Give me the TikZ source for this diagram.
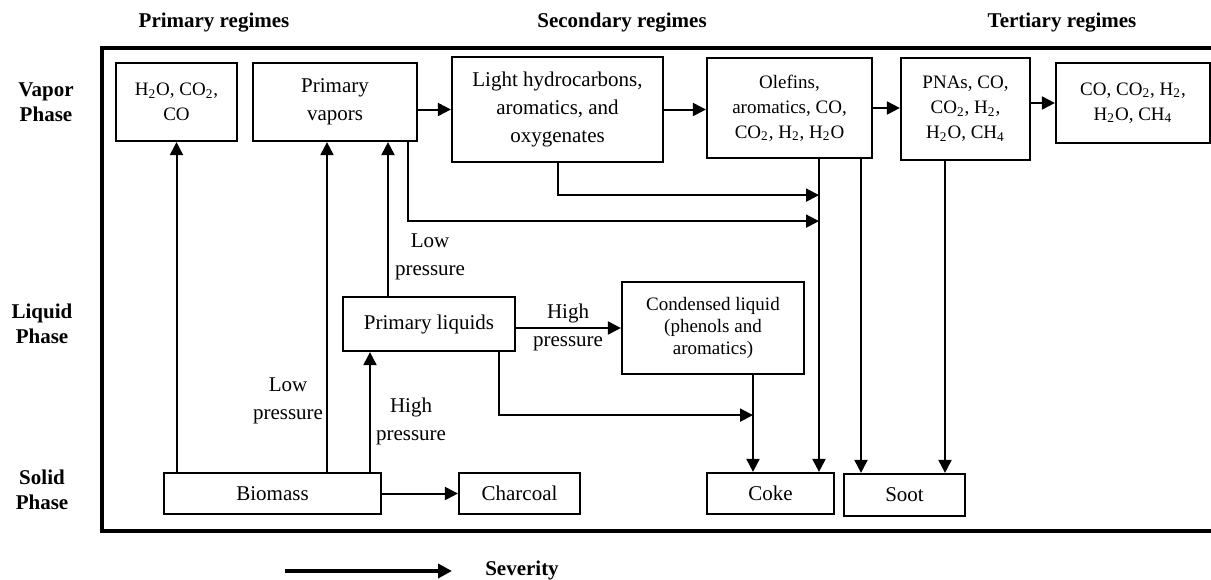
\documentclass[tikz,border=0pt]{standalone}
\usepackage{fontspec}
\setmainfont{Liberation Serif}
\usetikzlibrary{arrows.meta}
\tikzstyle{arrow} = [line width=1pt,-{Triangle[length=6.5pt,width=6.5pt]}]

\begin{document}
\begin{tikzpicture}[x=0.5pt, y=-0.5pt,
  box/.style = {draw, line width=1.1pt, align=center, inner sep=0pt, font=\fontsize{10.5}{14}\selectfont},
  small/.style = {font=\fontsize{9.5}{12.5}\selectfont},
  lbl/.style = {align=center, inner sep=0pt, font=\fontsize{10.5}{14}\selectfont},
  head/.style = {align=center, inner sep=0pt, font=\bfseries\fontsize{10.5}{12.5}\selectfont}]
\useasboundingbox (0,0) rectangle (1211,579);
\draw[line width=2pt] (102,48) rectangle (1216,531);

% headings
\node[head] (h1) at (214,23) {Primary regimes};
\node[head] (h2) at (622,23) {Secondary regimes};
\node[head] (h3) at (1062,23) {Tertiary regimes};
\node[head] (vap) at (46,102) {Vapor\\Phase};
\node[head] (liq) at (42,324) {Liquid\\Phase};
\node[head] (sol) at (42,490) {Solid\\Phase};

% vapor phase
\node[box, small, minimum width=60.5pt, minimum height=39pt] (gas1) at (176.5,102) {H\textsubscript{2}O, CO\textsubscript{2},\\CO};
\node[box, minimum width=82pt, minimum height=39pt] (pvap) at (335,102) {Primary\\vapors};
\node[box, minimum width=105.5pt, minimum height=52.5pt] (light) at (557.5,109.5) {Light hydrocarbons,\\aromatics, and\\oxygenates};
\node[box, small, minimum width=82.5pt, minimum height=50pt] (olef) at (789.5,108) {Olefins,\\aromatics, CO,\\CO\textsubscript{2}, H\textsubscript{2}, H\textsubscript{2}O};
\node[box, small, minimum width=64.5pt, minimum height=51pt] (pnas) at (965.5,109) {PNAs, CO,\\CO\textsubscript{2}, H\textsubscript{2},\\H\textsubscript{2}O, CH\textsubscript{4}};
\node[box, small, minimum width=77pt, minimum height=40pt] (gas3) at (1133,103) {CO, CO\textsubscript{2}, H\textsubscript{2},\\H\textsubscript{2}O, CH\textsubscript{4}};

% liquid phase
\node[box, minimum width=86pt, minimum height=27pt] (pliq) at (429,324) {Primary liquids};
\node[box, small, font=\fontsize{9.5}{11}\selectfont, minimum width=91pt, minimum height=46pt] (cond) at (713,328) {Condensed liquid\\(phenols and\\aromatics)};

% solid phase
\node[box, minimum width=108.5pt, minimum height=20.5pt] (biom) at (272.5,493.5) {Biomass};
\node[box, minimum width=60.5pt, minimum height=20.5pt] (char) at (519.5,493.5) {Charcoal};
\node[box, minimum width=63.5pt, minimum height=20.5pt] (coke) at (770.5,493.5) {Coke};
\node[box, minimum width=60.5pt, minimum height=21pt] (soot) at (904.5,495) {Soot};

% labels
\node[lbl] (lp1) at (430,257) {Low\\pressure};
\node[lbl] (hp1) at (568,327) {High\\pressure};
\node[lbl] (lp2) at (288,401) {Low\\pressure};
\node[lbl] (hp2) at (411,421) {High\\pressure};

% line positions
\coordinate (bv) at ([xshift=-4pt]pvap.south);
\coordinate (lv) at ([xshift=-20.5pt]pliq.north);
\coordinate (bl) at ([xshift=-29.5pt]pliq.south);
\coordinate (pv) at ([xshift=36.5pt]pvap.south);
\coordinate (oc) at ([xshift=14.75pt]olef.south);
\coordinate (os) at ([xshift=35.75pt]olef.south);
\coordinate (ps) at ([xshift=-10.25pt]pnas.south);
\coordinate (pl) at ([xshift=35pt]pliq.south);
\coordinate (cd) at ([xshift=20pt]cond.south);

% connectors
\draw[arrow] (light.west -| pvap.east) -- (light.west);
\draw[arrow] (light.east) -- (light.east -| olef.west);
\draw[arrow] (olef.east) -- (olef.east -| pnas.west);
\draw[arrow] (gas3.west -| pnas.east) -- (gas3.west);

\draw[arrow] (biom.north -| gas1.south) -- (gas1.south);
\draw[arrow] (biom.north -| bv) -- (bv);
\draw[arrow] (biom.north -| bl) -- (bl);
\draw[arrow] (lv) -- (lv |- pvap.south);
\draw[arrow] (biom.east) -- (biom.east -| char.west);
\draw[arrow] (pliq.east |- cond.west) -- (cond.west);

\draw[arrow] (light.south) |- ([yshift=-16pt]light.south -| oc);
\draw[arrow] (pv) |- ([yshift=-39.5pt]pv -| oc);
\draw[arrow] (pl) |- ([yshift=-31.5pt]pl -| cd);

\draw[arrow] (cd) -- (cd |- coke.north);
\draw[arrow] (oc) -- (oc |- coke.north);
\draw[arrow] (os) -- (os |- soot.north);
\draw[arrow] (ps) -- (ps |- soot.north);

% severity
\coordinate (s0) at (285,571);
\coordinate (s1) at (452,571);
\node[head] (sev) at (522,570) {Severity};
\draw[line width=2pt,-{Triangle[length=7pt,width=7pt]}] (s0) -- (s1);
\end{tikzpicture}
\end{document}
